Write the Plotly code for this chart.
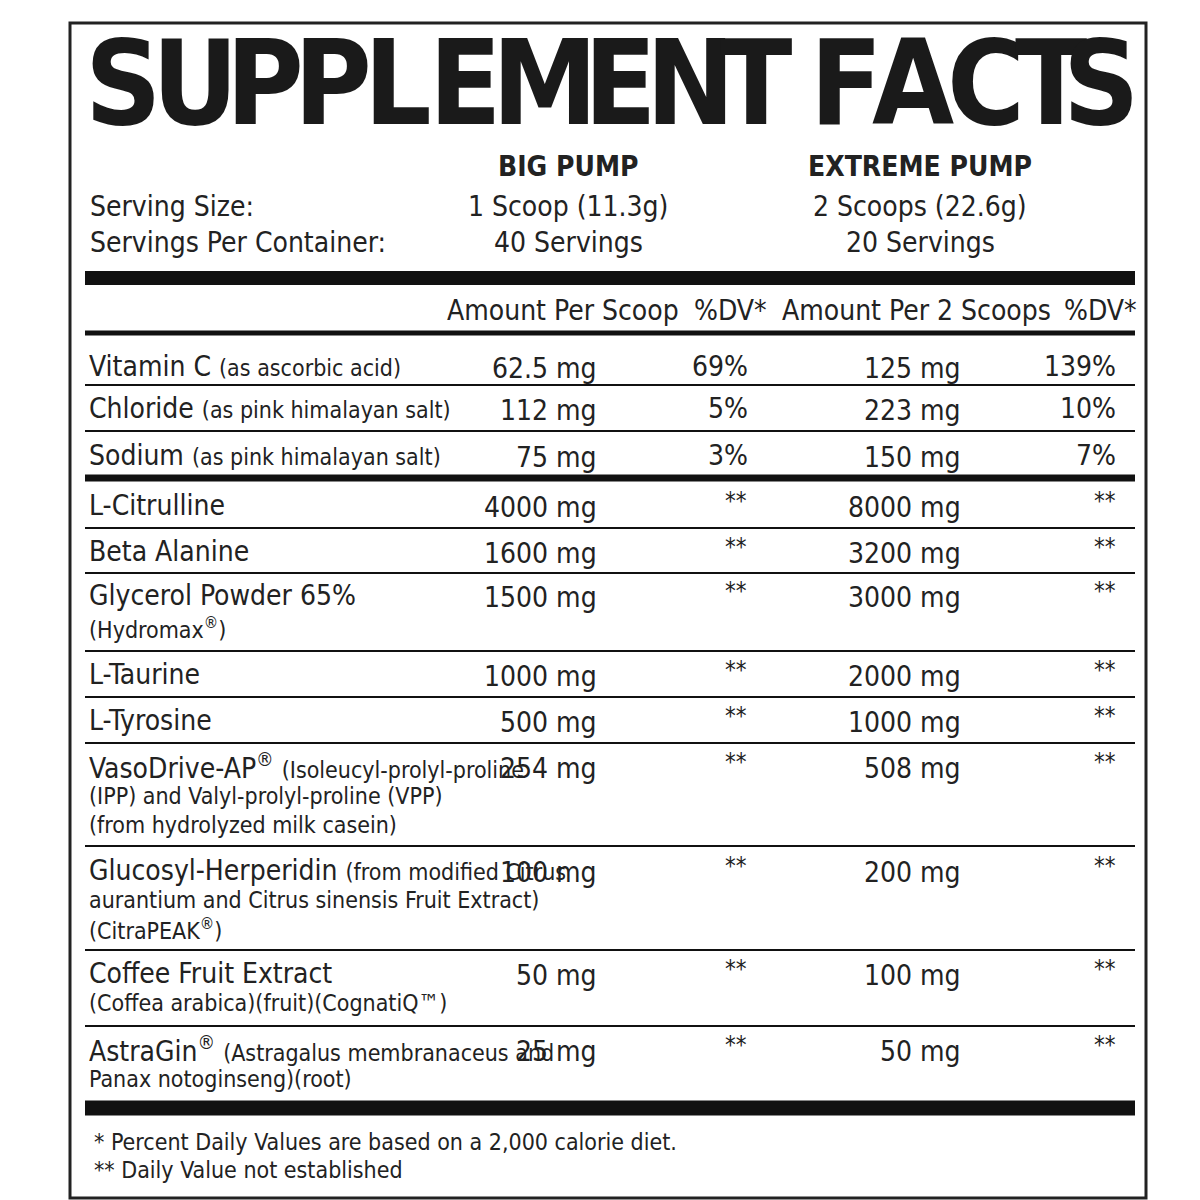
import plotly.graph_objects as go

FONT = "Liberation Sans Narrow, DejaVu Sans Condensed, Arial Narrow, sans-serif"

title_letters = list("SUPPLEMENTFACTS")
title_x = [115, 187, 257, 325, 390, 457, 537, 612, 682, 748, 838, 905, 978, 1043, 1093]

products = ["BIG PUMP", "EXTREME PUMP"]
serving_size = ["1 Scoop (11.3g)", "2 Scoops (22.6g)"]
servings = ["40 Servings", "20 Servings"]
col_heads = ["Amount Per Scoop", "%DV*", "Amount Per 2 Scoops", "%DV*"]

names = ["Vitamin C", "Chloride", "Sodium", "L-Citrulline", "Beta Alanine",
         "Glycerol Powder 65%", "L-Taurine", "L-Tyrosine", "VasoDrive-AP<sup>®</sup>",
         "Glucosyl-Herperidin", "Coffee Fruit Extract", "AstraGin<sup>®</sup>"]
inline_notes = ["(as ascorbic acid)", "(as pink himalayan salt)", "(as pink himalayan salt)",
                "", "", "", "", "", "(Isoleucyl-prolyl-proline", "(from modified Citrus", "", "(Astragalus membranaceus and"]
extra_lines = [[], [], [], [], [], ["(Hydromax<sup>®</sup>)"], [], [],
               ["(IPP) and Valyl-prolyl-proline (VPP)", "(from hydrolyzed milk casein)"],
               ["aurantium and Citrus sinensis Fruit Extract)", "(CitraPEAK<sup>®</sup>)"],
               ["(Coffea arabica)(fruit)(CognatiQ™)"],
               ["Panax notoginseng)(root)"]]
amt1 = ["62.5 mg", "112 mg", "75 mg", "4000 mg", "1600 mg", "1500 mg", "1000 mg", "500 mg", "254 mg", "100 mg", "50 mg", "25 mg"]
dv1 = ["69%", "5%", "3%", "**", "**", "**", "**", "**", "**", "**", "**", "**"]
amt2 = ["125 mg", "223 mg", "150 mg", "8000 mg", "3200 mg", "3000 mg", "2000 mg", "1000 mg", "508 mg", "200 mg", "100 mg", "50 mg"]
dv2 = ["139%", "10%", "7%", "**", "**", "**", "**", "**", "**", "**", "**", "**"]
row_y = [358, 400, 447, 497, 543, 587, 666, 712, 758, 862, 965, 1041]
line_y = [377, 423, 470, 520, 565, 643, 689, 735, 838, 942, 1018, 1100]
line_w = [2, 2, 7, 2, 2, 2, 2, 2, 2, 2, 2, 15]
footnotes = ["* Percent Daily Values are based on a 2,000 calorie diet.", "** Daily Value not established"]

fig = go.Figure()
ann = []
def T(x, y, t, size=28, xa="center", color="#222", bold=False, ya="middle"):
    if bold:
        t = "<b>" + t + "</b>"
    ann.append(dict(x=x, y=y, text=t, showarrow=False, xanchor=xa, yanchor=ya,
                    font=dict(family=FONT, size=size, color=color)))

for ch, x in zip(title_letters, title_x):
    T(x, 75, ch, size=118, bold=True, color="#1a1a1a")

for i, xc in enumerate([560, 912]):
    T(xc, 158, products[i], size=28, bold=True)
    T(xc, 198, serving_size[i], size=28)
    T(xc, 234, servings[i], size=28)
T(80, 198, "Serving Size:", xa="left")
T(80, 234, "Servings Per Container:", xa="left")
for t, x in zip(col_heads, [555, 722, 908, 1092]):
    T(x, 302, t)

for i in range(len(names)):
    y = row_y[i]
    txt = names[i]
    if inline_notes[i]:
        txt += " <span style='font-size:23px'>" + inline_notes[i] + "</span>"
    T(79, y, txt, xa="left")
    for k, e in enumerate(extra_lines[i]):
        T(79, y + 30 + k * 29 if i != 5 else y + 33, e, size=23, xa="left")
    T(591, y + 2, amt1[i], xa="right")
    T(955, y + 2, amt2[i], xa="right")
    if dv1[i] == "**":
        T(728, y - 4, "**", size=24)
        T(1097, y - 4, "**", size=24)
    else:
        T(742, y, dv1[i], xa="right")
        T(1110, y, dv2[i], xa="right")

T(84, 1134, footnotes[0], size=23, xa="left")
T(84, 1162, footnotes[1], size=23, xa="left")

shapes = [dict(type="rect", x0=62, x1=1138, y0=15, y1=1190, line=dict(color="#222", width=3)),
          dict(type="rect", x0=77, x1=1127, y0=263, y1=277, fillcolor="#111", line_width=0),
          dict(type="line", x0=77, x1=1127, y0=325, y1=325, line=dict(color="#111", width=5))]
for y, w in zip(line_y, line_w):
    shapes.append(dict(type="line", x0=77, x1=1127, y0=y, y1=y, line=dict(color="#111", width=w)))

fig.update_layout(width=1200, height=1200, margin=dict(l=0, r=0, t=0, b=0),
                  paper_bgcolor="white", plot_bgcolor="white",
                  xaxis=dict(range=[0, 1200], visible=False, fixedrange=True),
                  yaxis=dict(range=[1200, 0], visible=False, fixedrange=True),
                  annotations=ann, shapes=shapes, showlegend=False)
fig.write_html("out.html")
